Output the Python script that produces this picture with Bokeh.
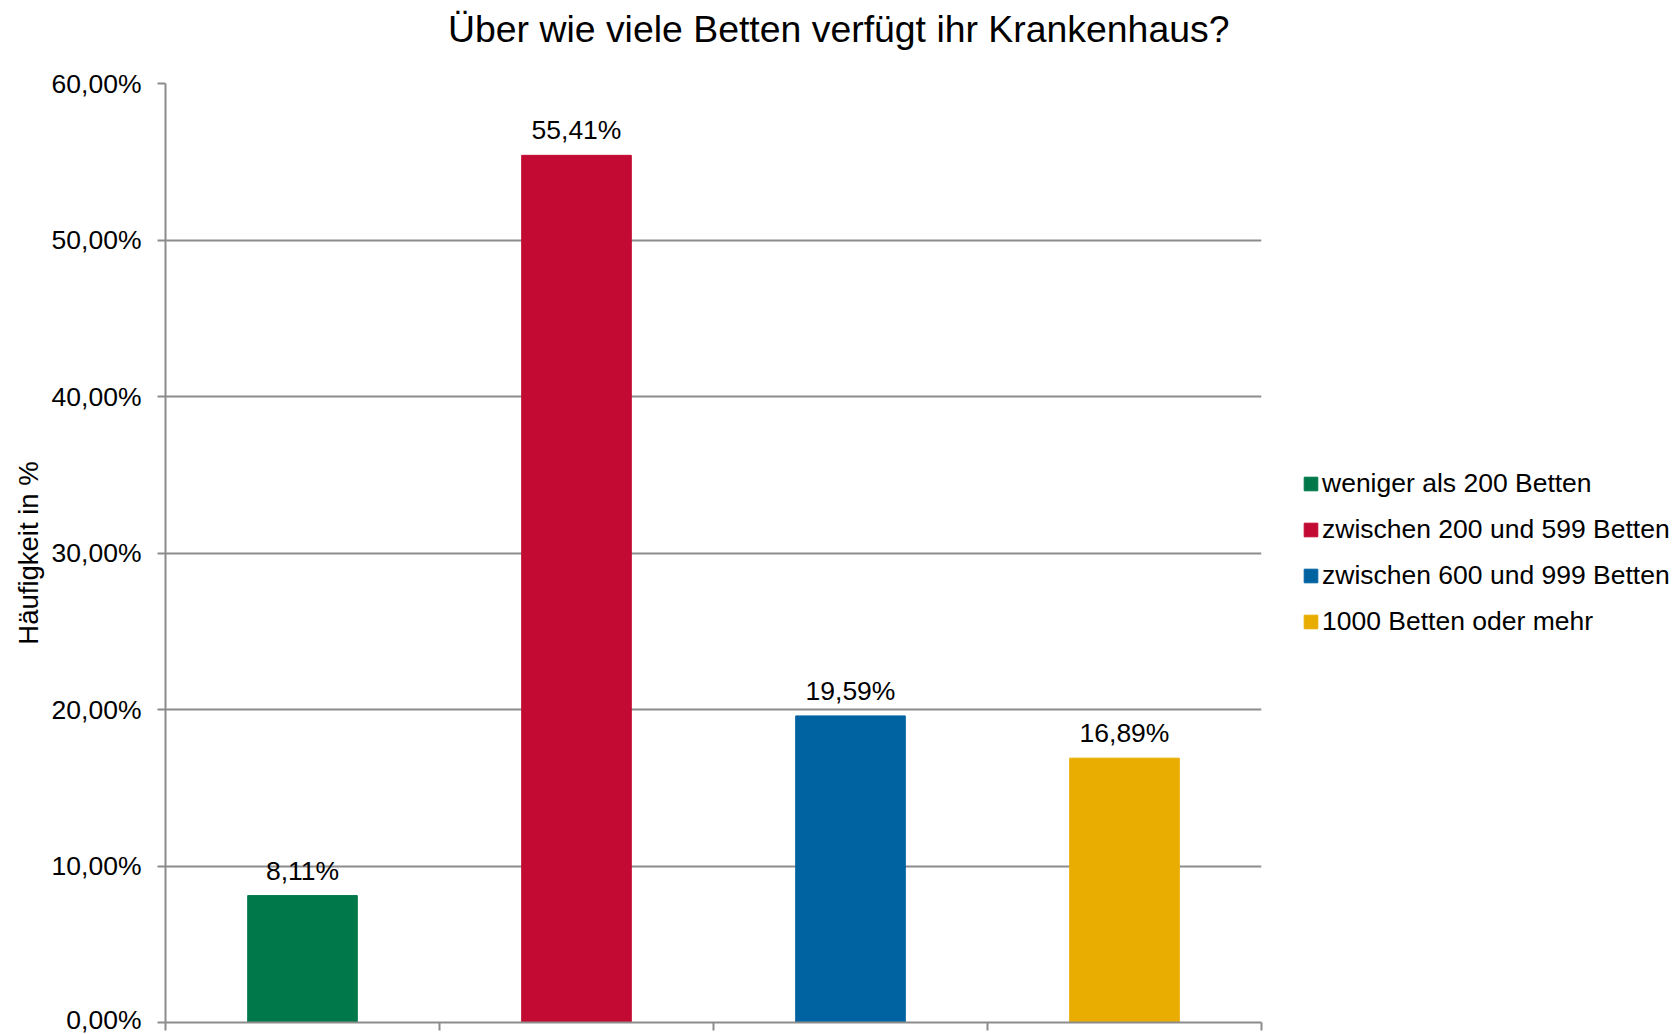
from bokeh.plotting import figure
from bokeh.models import (ColumnDataSource, Range1d, FixedTicker, LabelSet, Legend, LegendItem, Div)
from bokeh.layouts import column
from bokeh.core.properties import value
from bokeh.embed import file_html
from bokeh.resources import INLINE

title_text = "Über wie viele Betten verfügt ihr Krankenhaus?"
categories = ["weniger als 200 Betten", "zwischen 200 und 599 Betten",
              "zwischen 600 und 999 Betten", "1000 Betten oder mehr"]
values = [8.11, 55.41, 19.59, 16.89]
value_labels = ["8,11%", "55,41%", "19,59%", "16,89%"]
colors = ["#00784A", "#C20A32", "#0063A1", "#E8AD00"]
y_ticks = [0, 10, 20, 30, 40, 50, 60]
y_tick_labels = ["0,00%", "10,00%", "20,00%", "30,00%", "40,00%", "50,00%", "60,00%"]
y_axis_label = "Häufigkeit in %"

FONT = "Liberation Sans"
GRID = "#8c8c8c"
LW = 2

src = ColumnDataSource(dict(
    x=[i + 0.5 for i in range(len(categories))],
    top=values,
    color=colors,
    cat=categories,
    lab=value_labels,
))

title_div = Div(
    text=('<div style="padding-left:448px; padding-top:11px; font-family:\'Liberation Sans\';'
          ' font-size:37.4px; line-height:37px; color:black; white-space:nowrap;">'
          + title_text + '</div>'),
    width=1678, height=59, margin=0)

p = figure(frame_width=1096, frame_height=939,
           min_border_left=165, min_border_right=417,
           min_border_top=24, min_border_bottom=12,
           x_range=Range1d(0, len(categories)), y_range=Range1d(0, 60),
           output_backend="svg", toolbar_location=None, margin=0)

p.outline_line_color = None
p.background_fill_color = "white"
p.border_fill_color = "white"

r = p.vbar(x="x", top="top", width=0.4, bottom=0, color="color", source=src)

labels = LabelSet(x="x", y="top", text="lab", source=src, text_align="center",
                  text_baseline="alphabetic", y_offset=16, text_font=value(FONT),
                  text_font_size=value("26.5px"), text_color="black")
p.add_layout(labels)

# y axis
yax = p.yaxis[0]
yax.ticker = FixedTicker(ticks=y_ticks)
yax.major_label_overrides = {t: l for t, l in zip(y_ticks, y_tick_labels)}
yax.major_label_text_font = FONT
yax.major_label_text_font_size = "26.5px"
yax.major_label_text_color = "black"
yax.major_label_standoff = 16
yax.major_tick_out = 8
yax.major_tick_in = 0
yax.minor_tick_out = 0
yax.minor_tick_in = 0
yax.axis_line_color = GRID
yax.axis_line_width = LW
yax.major_tick_line_color = GRID
yax.major_tick_line_width = LW
yax.axis_label = y_axis_label
yax.axis_label_text_font = FONT
yax.axis_label_text_font_size = "27.5px"
yax.axis_label_text_font_style = "normal"
yax.axis_label_text_color = "black"
yax.axis_label_standoff = 5

# x axis
xax = p.xaxis[0]
xax.ticker = FixedTicker(ticks=list(range(len(categories) + 1)))
xax.major_label_overrides = {i: "" for i in range(len(categories) + 1)}
xax.major_label_text_font_size = "0px"
xax.major_label_standoff = 0
xax.major_tick_out = 8
xax.major_tick_in = 0
xax.minor_tick_out = 0
xax.minor_tick_in = 0
xax.axis_line_color = GRID
xax.axis_line_width = LW
xax.major_tick_line_color = GRID
xax.major_tick_line_width = LW

p.xgrid.grid_line_color = None
p.ygrid.ticker = FixedTicker(ticks=y_ticks)
p.ygrid.grid_line_color = GRID
p.ygrid.grid_line_width = LW

items = [LegendItem(label=c, renderers=[r], index=i) for i, c in enumerate(categories)]
legend = Legend(items=items, location=(41, 385), orientation="vertical",
                glyph_width=17, glyph_height=17, label_standoff=3,
                label_text_font=FONT, label_text_font_size="26.5px",
                label_text_color="black", label_height=30, spacing=15,
                padding=0, margin=0, border_line_color=None,
                background_fill_alpha=0)
p.add_layout(legend, "right")

layout = column(title_div, p, spacing=0, margin=0)

open("out.html", "w").write(file_html(layout, INLINE))
